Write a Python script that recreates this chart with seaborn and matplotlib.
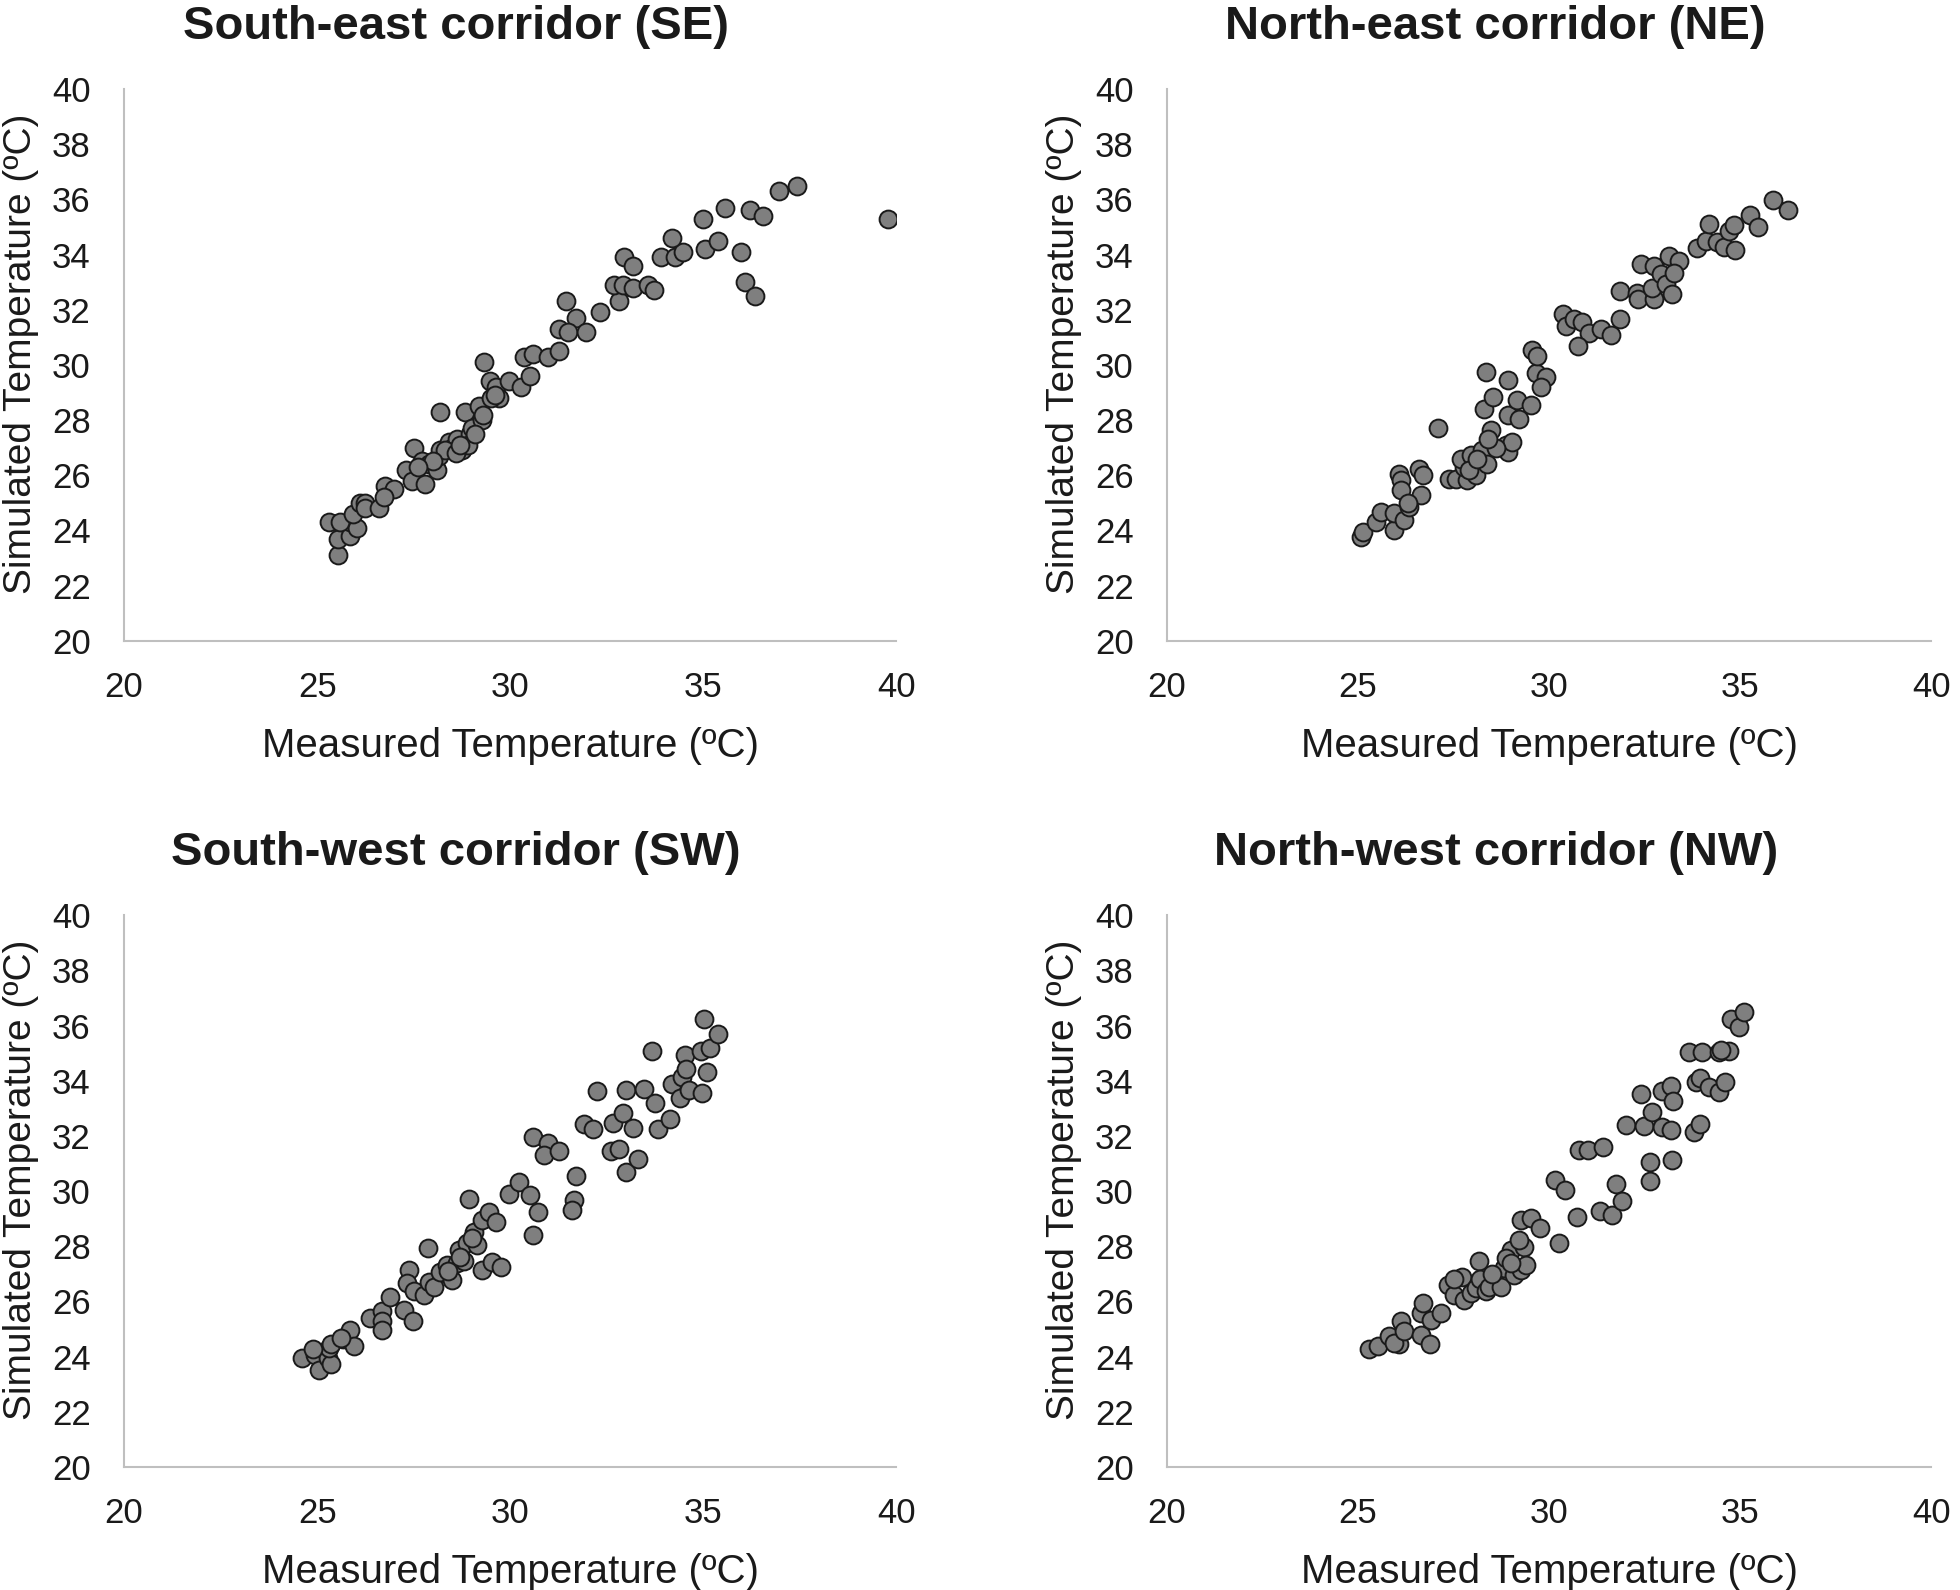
import seaborn as sns
import matplotlib.pyplot as plt
import pandas as pd

# Measured vs simulated temperature, one panel per corridor

se_measured = [25.3, 25.55, 25.55, 25.85, 25.85, 26.03, 25.59, 25.94, 26.11, 26.24,
               26.24, 26.59, 26.76, 26.98, 26.72, 27.31, 27.46, 27.8, 27.52, 27.72,
               27.89, 28.11, 28.15, 28.19, 28.19, 28.41, 28.49, 28.62, 28.75, 28.84,
               28.97, 29.01, 29.27, 29.19, 29.32, 29.49, 29.62, 29.71, 29.97, 30.27,
               30.52, 30.36, 30.6, 30.97, 31.27, 31.44, 31.7, 31.27, 31.49, 31.96,
               32.33, 32.83, 32.7, 32.92, 33.18, 32.96, 33.18, 33.57, 33.72, 33.91,
               34.26, 34.48, 34.19, 35.04, 35.0, 35.39, 35.56, 35.99, 36.08, 36.34,
               36.21, 36.56, 36.97, 37.43, 39.79,
               28.3, 28.6, 28.9, 29.1, 29.3, 29.5, 28.0, 28.7, 29.6, 27.6]
se_simulated = [24.3, 23.1, 23.7, 23.8, 24.3, 24.1, 24.3, 24.6, 25.0, 25.0,
                24.8, 24.8, 25.6, 25.5, 25.2, 26.2, 25.8, 25.7, 27.0, 26.5,
                26.4, 26.2, 26.7, 26.9, 28.3, 27.2, 27.0, 27.3, 26.9, 28.3,
                27.5, 27.7, 28.0, 28.5, 30.1, 29.4, 29.2, 28.8, 29.4, 29.2,
                29.6, 30.3, 30.4, 30.3, 30.5, 32.3, 31.7, 31.3, 31.2, 31.2,
                31.9, 32.3, 32.9, 32.9, 32.8, 33.9, 33.6, 32.9, 32.7, 33.9,
                33.9, 34.1, 34.6, 34.2, 35.3, 34.5, 35.7, 34.1, 33.0, 32.5,
                35.6, 35.4, 36.3, 36.5, 35.3,
                26.9, 26.8, 27.1, 27.5, 28.2, 28.8, 26.5, 27.1, 28.9, 26.3]

ne_measured = [25.07, 25.12, 25.46, 25.59, 25.94, 25.94, 26.2, 26.33, 26.64, 26.07,
               26.12, 26.12, 26.6, 26.69, 27.08, 27.38, 27.56, 27.86, 28.08, 27.77,
               27.69, 27.95, 28.25, 28.38, 28.47, 28.86, 28.91, 29.04, 28.34, 28.91,
               28.3, 28.52, 28.91, 29.21, 29.17, 29.52, 29.65, 29.91, 29.78, 29.56,
               29.69, 30.35, 30.43, 30.65, 30.87, 31.04, 30.75, 31.35, 31.61, 31.85,
               31.85, 32.3, 32.33, 32.39, 32.74, 32.7, 32.74, 32.92, 33.05, 33.22,
               33.13, 33.39, 33.26, 33.87, 34.09, 34.18, 34.4, 34.57, 34.85, 34.7,
               34.83, 35.25, 35.46, 35.86, 36.24,
               27.9, 28.1, 28.6, 26.3, 28.4]
ne_simulated = [23.77, 23.95, 24.32, 24.68, 24.02, 24.62, 24.38, 24.86, 25.28, 26.06,
                25.82, 25.48, 26.24, 26.0, 27.72, 25.88, 25.88, 25.82, 26.0, 26.3,
                26.6, 26.72, 26.9, 26.42, 27.63, 27.08, 26.84, 27.2, 29.73, 29.46,
                28.41, 28.83, 28.17, 28.05, 28.71, 28.53, 29.69, 29.55, 29.19, 30.54,
                30.33, 31.84, 31.42, 31.66, 31.57, 31.14, 30.69, 31.3, 31.09, 31.66,
                32.68, 32.62, 32.38, 33.64, 32.38, 32.8, 33.58, 33.28, 32.92, 32.56,
                33.94, 33.76, 33.34, 34.24, 34.48, 35.11, 34.46, 34.27, 34.15, 34.87,
                35.06, 35.45, 34.99, 35.99, 35.63,
                26.2, 26.6, 27.0, 25.0, 27.3]

sw_measured = [24.62, 24.94, 25.04, 25.27, 25.37, 25.3, 25.66, 25.85, 25.95, 24.9,
               25.37, 25.63, 26.37, 26.68, 26.68, 26.68, 26.89, 27.24, 27.48, 27.37,
               27.33, 27.5, 27.76, 27.87, 27.89, 28.02, 28.19, 28.37, 28.5, 28.62,
               28.8, 28.67, 28.89, 29.06, 29.15, 28.93, 29.28, 29.45, 29.62, 29.28,
               29.54, 29.75, 29.97, 30.23, 30.52, 30.6, 30.97, 30.88, 31.27, 30.72,
               30.6, 31.7, 31.66, 31.59, 31.92, 32.14, 32.25, 32.61, 32.83, 33.0,
               33.32, 32.66, 32.92, 33.18, 33.0, 33.46, 33.68, 33.74, 33.84, 34.13,
               34.19, 34.39, 34.45, 34.54, 34.56, 34.62, 34.95, 35.17, 35.09, 34.97,
               35.02, 35.37,
               28.4, 28.7, 29.0]
sw_simulated = [23.96, 24.05, 23.51, 23.96, 23.74, 24.32, 24.64, 24.96, 24.37, 24.26,
                24.44, 24.68, 25.4, 25.64, 25.28, 24.98, 26.15, 25.7, 25.28, 27.15,
                26.67, 26.36, 26.24, 27.95, 26.72, 26.54, 27.08, 27.33, 26.78, 27.38,
                27.45, 27.87, 28.11, 28.53, 28.05, 29.73, 28.95, 29.25, 28.89, 27.15,
                27.42, 27.26, 29.91, 30.33, 29.87, 31.96, 31.74, 31.32, 31.44, 29.25,
                28.41, 30.55, 29.67, 29.31, 32.44, 32.26, 33.61, 31.44, 31.54, 30.69,
                31.15, 32.47, 32.83, 32.28, 33.68, 33.7, 35.09, 33.2, 32.26, 32.62,
                33.88, 33.37, 34.12, 34.93, 34.42, 33.68, 35.09, 35.17, 34.3, 33.56,
                36.23, 35.69,
                27.1, 27.6, 28.3]

nw_measured = [25.29, 25.51, 25.81, 26.07, 25.95, 26.12, 26.2, 26.64, 26.88, 26.64,
               26.71, 26.9, 27.16, 27.34, 27.51, 27.73, 27.77, 27.95, 28.08, 28.17,
               28.19, 28.34, 28.43, 28.73, 28.82, 28.99, 28.86, 29.08, 29.25, 29.34,
               29.21, 29.39, 29.25, 29.52, 29.76, 30.26, 30.14, 30.41, 30.72, 30.78,
               31.01, 31.42, 31.33, 31.65, 31.74, 31.91, 32.0, 32.41, 32.48, 32.7,
               32.96, 33.18, 32.65, 32.63, 33.22, 32.96, 33.18, 33.25, 33.66, 34.0,
               34.44, 34.7, 33.79, 33.94, 33.83, 33.94, 34.18, 34.44, 34.61, 34.76,
               34.96, 35.11,
               28.5, 29.0, 27.5, 34.5]
nw_simulated = [24.26, 24.38, 24.74, 24.46, 24.5, 25.28, 24.92, 24.8, 24.44, 25.58,
                25.94, 25.34, 25.58, 26.6, 26.24, 26.9, 26.06, 26.3, 26.48, 27.45,
                26.81, 26.36, 26.54, 26.54, 27.2, 27.87, 27.56, 26.97, 27.15, 27.99,
                28.23, 27.33, 28.95, 29.01, 28.67, 28.11, 30.39, 30.03, 29.07, 31.48,
                31.48, 31.6, 29.28, 29.15, 30.24, 29.64, 32.38, 33.52, 32.35, 32.86,
                32.32, 32.2, 31.06, 30.36, 31.12, 33.61, 33.8, 33.25, 35.03, 35.05,
                35.03, 35.09, 32.14, 32.44, 33.94, 34.09, 33.76, 33.58, 33.97, 36.25,
                35.93, 36.5,
                27.0, 27.4, 26.8, 35.1]

titles = ['South-east corridor (SE)', 'North-east corridor (NE)',
          'South-west corridor (SW)', 'North-west corridor (NW)']
x_ticks = [20, 25, 30, 35, 40]
y_ticks = [20, 22, 24, 26, 28, 30, 32, 34, 36, 38, 40]

sns.set_theme(style='white')
plt.rcParams['font.family'] = ['Liberation Sans', 'DejaVu Sans']
plt.rcParams['text.color'] = '#1a1a1a'
plt.rcParams['axes.labelcolor'] = '#1a1a1a'
plt.rcParams['xtick.color'] = '#1a1a1a'
plt.rcParams['ytick.color'] = '#1a1a1a'

fig = plt.figure(figsize=(19.6, 15.9), dpi=100)

# axes boxes in figure fractions: SE, NE, SW, NW
boxes = [
    [0.0633, 0.597, 0.394, 0.347],
    [0.5954, 0.597, 0.390, 0.347],
    [0.0633, 0.0774, 0.394, 0.347],
    [0.5954, 0.0774, 0.390, 0.347],
]
panels = [(se_measured, se_simulated), (ne_measured, ne_simulated),
          (sw_measured, sw_simulated), (nw_measured, nw_simulated)]

for box, (meas, sim), title in zip(boxes, panels, titles):
    ax = fig.add_axes(box)
    df = pd.DataFrame({'Measured': meas, 'Simulated': sim})
    sns.scatterplot(data=df, x='Measured', y='Simulated', ax=ax,
                    s=165, color='#7f7f7f', edgecolor='#1a1a1a', linewidth=1.4)
    ax.set_xlim(20, 40)
    ax.set_ylim(20, 40)
    ax.set_xticks(x_ticks)
    ax.set_yticks(y_ticks)
    ax.tick_params(axis='both', length=0, labelsize=25)
    ax.tick_params(axis='x', pad=22)
    ax.tick_params(axis='y', pad=24)
    for side in ['top', 'right']:
        ax.spines[side].set_visible(False)
    for side in ['left', 'bottom']:
        ax.spines[side].set_color('#bfbfbf')
        ax.spines[side].set_linewidth(1.5)
    ax.set_xlabel('Measured Temperature (ºC)', fontsize=29, labelpad=16)
    ax.set_ylabel('Simulated Temperature (ºC)', fontsize=28, labelpad=9)
    ax.yaxis.label.set_y(0.52)
    ax.set_title(title, fontsize=34, fontweight='bold', x=0.43, pad=36)

plt.savefig('out.png', dpi=100)
